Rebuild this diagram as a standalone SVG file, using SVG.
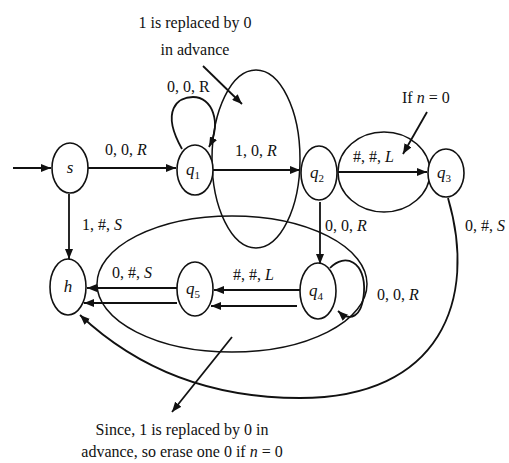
<svg xmlns="http://www.w3.org/2000/svg" width="509" height="463" viewBox="0 0 509 463">
<style>
.node{fill:#fff;stroke:#111;stroke-width:1.6}
.edge{fill:none;stroke:#111;stroke-width:1.8;marker-end:url(#arr)}
.ann{fill:none;stroke:#111;stroke-width:1.5}
.line{fill:none;stroke:#111;stroke-width:1.5}
text{font-family:"Liberation Serif","DejaVu Serif",serif;fill:#111;font-size:16px}
.lbl{font-size:16px}
.it{font-style:italic}
.nl{font-style:italic;font-size:17px;text-anchor:middle}
</style>
<defs>
<marker id="arr" markerUnits="userSpaceOnUse" markerWidth="10" markerHeight="8" refX="10" refY="4" orient="auto">
<path d="M0,0 L10,4 L0,8 z" fill="#111"/>
</marker>
</defs>
<rect width="509" height="463" fill="#fff"/>
<g id="annotations">
<ellipse class="ann" cx="256" cy="159" rx="44" ry="89"/>
<ellipse class="ann" cx="384" cy="172" rx="46" ry="40"/>
<ellipse class="ann" cx="232" cy="284" rx="135" ry="68"/>
<line class="edge" x1="203" y1="66" x2="242" y2="104"/>
<line class="edge" x1="427" y1="112" x2="403" y2="154"/>
<line class="edge" x1="232" y1="337" x2="172" y2="412"/>
<text x="195" y="28" text-anchor="middle">1 is replaced by 0</text>
<text x="195" y="55" text-anchor="middle">in advance</text>
<text x="402" y="103">If <tspan class="it">n</tspan> = 0</text>
<text x="182" y="435" text-anchor="middle">Since, 1 is replaced by 0 in</text>
<text x="182" y="457" text-anchor="middle">advance, so erase one 0 if <tspan class="it">n</tspan> = 0</text>
</g>
<g id="connectors">
<line class="edge" x1="13" y1="168" x2="51" y2="168"/>
<line class="edge" x1="88" y1="168" x2="176" y2="168"/>
<line class="edge" x1="213" y1="170" x2="300" y2="170"/>
<line class="edge" x1="338" y1="172" x2="427" y2="172"/>
<line class="edge" x1="69" y1="194" x2="69" y2="259"/>
<line class="edge" x1="320" y1="202" x2="320" y2="264"/>
<line class="edge" x1="300" y1="290" x2="214" y2="290"/>
<line class="edge" x1="297" y1="306" x2="211" y2="306"/>
<line class="edge" x1="177" y1="288" x2="87" y2="288"/>
<line class="edge" x1="177" y1="303" x2="84" y2="303"/>
<path class="edge" d="M182,149 C160,110 178,97 193,97 C212,97 222,122 209,147"/>
<path class="edge" d="M330,268 C345,252 366,262 364,292 C362,318 350,322 338,311"/>
<path class="edge" d="M448,198 C478,300 440,398 300,398 C200,398 130,362 80,315"/>
<text x="105" y="155">0, 0, <tspan class="it">R</tspan></text>
<text x="167" y="92">0, 0, R</text>
<text x="235" y="156">1, 0, <tspan class="it">R</tspan></text>
<text x="353" y="162">#, #, <tspan class="it">L</tspan></text>
<text x="82" y="230">1, #, <tspan class="it">S</tspan></text>
<text x="325" y="231">0, 0, <tspan class="it">R</tspan></text>
<text x="465" y="231">0, #, <tspan class="it">S</tspan></text>
<text x="112" y="278">0, #, <tspan class="it">S</tspan></text>
<text x="233" y="280">#, #, <tspan class="it">L</tspan></text>
<text x="377" y="300">0, 0, <tspan class="it">R</tspan></text>
</g>
<g id="s"><ellipse class="node" cx="70" cy="168" rx="18" ry="25"/><text class="nl" x="70" y="173">s</text></g>
<g id="q1"><ellipse class="node" cx="195" cy="170" rx="18" ry="25"/><text class="nl" x="193" y="175">q<tspan font-size="11" dy="4" font-style="normal">1</tspan></text></g>
<g id="q2"><ellipse class="node" cx="319" cy="173" rx="18" ry="27"/><text class="nl" x="317" y="178">q<tspan font-size="11" dy="4" font-style="normal">2</tspan></text></g>
<g id="q3"><ellipse class="node" cx="446" cy="173" rx="18" ry="24"/><text class="nl" x="444" y="178">q<tspan font-size="11" dy="4" font-style="normal">3</tspan></text></g>
<g id="h"><ellipse class="node" cx="68" cy="287" rx="18" ry="28"/><text class="nl" x="68" y="292">h</text></g>
<g id="q5"><ellipse class="node" cx="195" cy="289" rx="18" ry="27"/><text class="nl" x="193" y="294">q<tspan font-size="11" dy="4" font-style="normal">5</tspan></text></g>
<g id="q4"><ellipse class="node" cx="318" cy="291" rx="18" ry="28"/><text class="nl" x="316" y="296">q<tspan font-size="11" dy="4" font-style="normal">4</tspan></text></g>
</svg>
